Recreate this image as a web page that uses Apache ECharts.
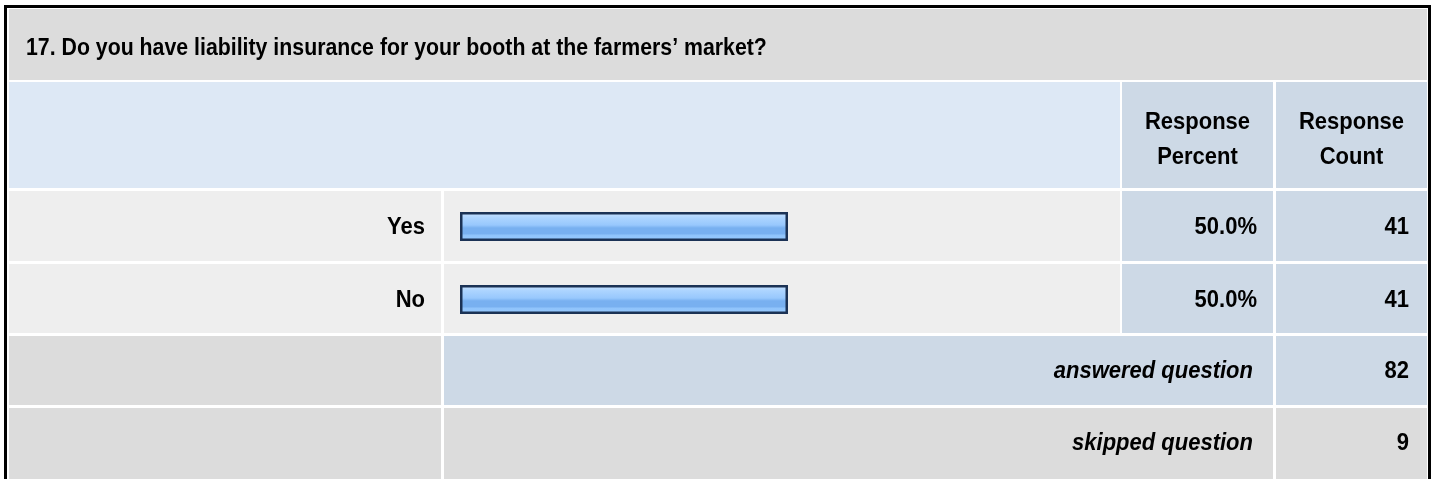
<!DOCTYPE html>
<html>
<head>
<meta charset="utf-8">
<script src="https://cdn.jsdelivr.net/npm/echarts@6/dist/echarts.min.js"></script>
<style>
  html, body { margin: 0; padding: 0; background: #fff; }
  #chart { width: 1437px; height: 479px; }
</style>
</head>
<body>
<div id="chart"></div>
<script>
// 数据
var title = "17. Do you have liability insurance for your booth at the farmers\u2019 market?";
var categories = ["Yes", "No"];
var percents = [50.0, 50.0];
var counts = [41, 41];
var answered = 82;
var skipped = 9;

var FONT = 'Arial, "Liberation Sans", sans-serif';
var FS = 22;

var chart = echarts.init(document.getElementById("chart"), null, { renderer: "canvas" });

// 表格背景格子
function cell(x1, y1, x2, y2, color) {
  return { type: "rect", silent: true, z: -10,
    shape: { x: x1, y: y1, width: x2 - x1, height: y2 - y1 },
    style: { fill: color } };
}
// 文字（略微纵向拉伸，贴近原图字形）
function txt(x, y, text, align, opt) {
  opt = opt || {};
  return { type: "text", silent: true, z: 10, x: x, y: y, scaleY: 1.12,
    style: { text: text, fill: "#000", font: (opt.italic ? "italic " : "") + "bold " + (opt.size || FS) + "px " + FONT,
      align: align, verticalAlign: "middle" } };
}

var GRAY = "#dcdcdc", LIGHT = "#eeeeee", HEAD = "#dde8f5", BLUE = "#cdd9e6";
var cols = { l0: 9, l1: 441, m0: 444, m1: 1120, p0: 1122, p1: 1273, c0: 1276, c1: 1427 };
var rowY = [[191, 261], [264, 333]];

var graphics = [
  // 外框
  { type: "rect", silent: true, shape: { x: 4, y: 5, width: 3, height: 474 }, style: { fill: "#000" } },
  { type: "rect", silent: true, shape: { x: 4, y: 5, width: 1427, height: 3 }, style: { fill: "#000" } },
  { type: "rect", silent: true, shape: { x: 1428, y: 5, width: 3, height: 474 }, style: { fill: "#000" } },
  // 标题行
  cell(9, 9, cols.c1, 80, GRAY),
  // 表头
  cell(9, 82, cols.m1, 188, HEAD),
  cell(cols.p0, 82, cols.p1, 188, BLUE),
  cell(cols.c0, 82, cols.c1, 188, BLUE),
  // 汇总行
  cell(cols.l0, 336, cols.l1, 405, GRAY),
  cell(cols.m0, 336, cols.p1, 405, BLUE),
  cell(cols.c0, 336, cols.c1, 405, BLUE),
  cell(cols.l0, 408, cols.l1, 479, GRAY),
  cell(cols.m0, 408, cols.p1, 479, GRAY),
  cell(cols.c0, 408, cols.c1, 479, GRAY),
  // 文字
  txt(26, 48, title, "left", { size: 21.3 }),
  txt((cols.p0 + cols.p1) / 2, 122, "Response", "center"),
  txt((cols.p0 + cols.p1) / 2, 157, "Percent", "center"),
  txt((cols.c0 + cols.c1) / 2, 122, "Response", "center"),
  txt((cols.c0 + cols.c1) / 2, 157, "Count", "center"),
  txt(1253, 371, "answered question", "right", { italic: true }),
  txt(1409, 371, String(answered), "right"),
  txt(1253, 443, "skipped question", "right", { italic: true }),
  txt(1409, 443, String(skipped), "right")
];
rowY.forEach(function (r) {
  graphics.push(cell(cols.l0, r[0], cols.l1, r[1], LIGHT));
  graphics.push(cell(cols.m0, r[0], cols.m1, r[1], LIGHT));
  graphics.push(cell(cols.p0, r[0], cols.p1, r[1], BLUE));
  graphics.push(cell(cols.c0, r[0], cols.c1, r[1], BLUE));
});

var option = {
  animation: false,
  backgroundColor: "#fff",
  grid: { left: 460, width: 656, top: 190, height: 146 },
  xAxis: { type: "value", min: 0, max: 100, show: false },
  yAxis: {
    type: "category", data: categories, inverse: true,
    axisLine: { show: false }, axisTick: { show: false }, splitLine: { show: false },
    axisLabel: { show: false }
  },
  series: [{
    type: "bar",
    data: percents,
    barWidth: 29,
    itemStyle: {
      borderColor: "#1b3255",
      borderWidth: 2.5,
      color: new echarts.graphic.LinearGradient(0, 0, 0, 1, [
        { offset: 0, color: "#cce4ff" },
        { offset: 0.2, color: "#acd4ff" },
        { offset: 0.45, color: "#98c8fd" },
        { offset: 0.55, color: "#78b0f0" },
        { offset: 0.75, color: "#78b0f0" },
        { offset: 0.8, color: "#90c4fb" },
        { offset: 1, color: "#96c9ff" }
      ])
    }
  }],
  graphic: graphics
};
chart.setOption(option);

// 类目、百分比和数量，纵向位置取自类目轴
categories.forEach(function (c, i) {
  var y = chart.convertToPixel({ yAxisIndex: 0 }, c);
  graphics.push(txt(425, y + 1, c, "right"));
  graphics.push(txt(1257, y + 1, percents[i].toFixed(1) + "%", "right"));
  graphics.push(txt(1409, y + 1, String(counts[i]), "right"));
});
chart.setOption({ graphic: graphics });
</script>
</body>
</html>
